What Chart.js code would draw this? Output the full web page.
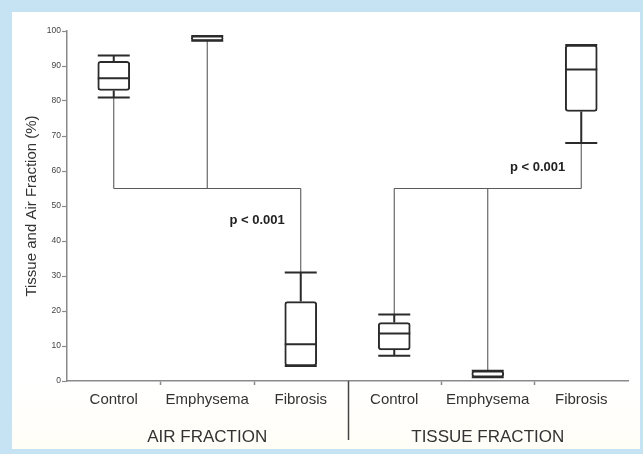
<!DOCTYPE html>
<html>
<head>
<meta charset="utf-8">
<script src="https://cdn.jsdelivr.net/npm/chart.js@4.4.1/dist/chart.umd.min.js"></script>
<style>
  html, body { margin: 0; padding: 0; width: 643px; height: 454px; overflow: hidden; background: #c6e3f3; }
  #panel { position: absolute; left: 12px; top: 12px; width: 628px; height: 437px;
           background: linear-gradient(#ffffff 85%, #fffdf6); }
  #chart { position: absolute; left: 0; top: 0; }
</style>
</head>
<body>
<div id="panel"></div>
<canvas id="chart" width="643" height="454"></canvas>
<script>
// box plot data
const categories = ['Control', 'Emphysema', 'Fibrosis', 'Control', 'Emphysema', 'Fibrosis']
const groupLabels = ['AIR FRACTION', 'TISSUE FRACTION']
const whiskerMin = [81, 97.2, 4.3, 7.2, 1.1, 68]
const q1 = [83, 97.2, 4.3, 8.9, 1.1, 77]
const median = [86.5, 97.9, 10.5, 13.6, 2, 89]
const q3 = [91.3, 98.6, 22.7, 16.7, 2.9, 96]
const whiskerMax = [93, 98.6, 31, 19, 2.9, 96]
const yTicks = [0, 10, 20, 30, 40, 50, 60, 70, 80, 90, 100]
const bracketLevel = [55, 55]
const pLabels = ['p < 0.001', 'p < 0.001']

const boxColor = '#2b2b2b'
const lineColor = '#5a5a5a'
const axisColor = '#8a8a8a'
const textColor = '#333'
const fontFamily = "'Liberation Sans', Arial, Helvetica, sans-serif"
const capHalf = 16

const boxPlugin = {
  id: 'boxWhiskers',
  beforeDatasetsDraw(chart) {
    const ctx = chart.ctx
    const x = chart.scales.x
    const y = chart.scales.y
    ctx.save()
    ctx.strokeStyle = lineColor
    ctx.lineWidth = 1.1
    // significance brackets
    bracketLevel.forEach((level, g) => {
      const yl = y.getPixelForValue(level)
      const first = g * 3
      const last = g * 3 + 2
      ctx.beginPath()
      ctx.moveTo(x.getPixelForValue(first), yl)
      ctx.lineTo(x.getPixelForValue(last), yl)
      for (let i = first; i <= last; i++) {
        const end = whiskerMin[i] > level ? whiskerMin[i] : whiskerMax[i]
        const xp = x.getPixelForValue(i)
        ctx.moveTo(xp, yl)
        ctx.lineTo(xp, y.getPixelForValue(end))
      }
      ctx.stroke()
    })
    // separator between the two groups
    const sx = Math.round((x.getPixelForValue(2) + x.getPixelForValue(3)) / 2) + 0.5
    ctx.strokeStyle = '#444'
    ctx.lineWidth = 1.5
    ctx.beginPath()
    ctx.moveTo(sx, chart.chartArea.bottom)
    ctx.lineTo(sx, chart.chartArea.bottom + 59)
    ctx.stroke()
    ctx.restore()
  },
  afterDatasetsDraw(chart) {
    const ctx = chart.ctx
    const x = chart.scales.x
    const y = chart.scales.y
    ctx.save()
    ctx.strokeStyle = boxColor
    ctx.lineWidth = 2
    categories.forEach((c, i) => {
      const xp = x.getPixelForValue(i)
      ctx.beginPath()
      // stems
      ctx.moveTo(xp, y.getPixelForValue(q3[i]))
      ctx.lineTo(xp, y.getPixelForValue(whiskerMax[i]))
      ctx.moveTo(xp, y.getPixelForValue(q1[i]))
      ctx.lineTo(xp, y.getPixelForValue(whiskerMin[i]))
      // caps
      ctx.moveTo(xp - capHalf, y.getPixelForValue(whiskerMax[i]))
      ctx.lineTo(xp + capHalf, y.getPixelForValue(whiskerMax[i]))
      ctx.moveTo(xp - capHalf, y.getPixelForValue(whiskerMin[i]))
      ctx.lineTo(xp + capHalf, y.getPixelForValue(whiskerMin[i]))
      // median, only where the box is tall enough to show it
      const boxH = y.getPixelForValue(q1[i]) - y.getPixelForValue(q3[i])
      if (boxH > 8) {
        ctx.moveTo(xp - capHalf, y.getPixelForValue(median[i]))
        ctx.lineTo(xp + capHalf, y.getPixelForValue(median[i]))
      }
      ctx.stroke()
    })
    // p value labels
    ctx.fillStyle = '#222'
    ctx.font = 'bold 13px ' + fontFamily
    ctx.textAlign = 'right'
    ctx.textBaseline = 'middle'
    pLabels.forEach((txt, g) => {
      const xp = x.getPixelForValue(g * 3 + 2) - 16
      const yl = y.getPixelForValue(bracketLevel[g])
      ctx.fillText(txt, xp, g === 0 ? yl + 32 : yl - 21)
    })
    ctx.restore()
  }
}

new Chart(document.getElementById('chart'), {
  type: 'bar',
  data: {
    labels: categories,
    datasets: [{
      data: q1.map((v, i) => [v, q3[i]]),
      backgroundColor: '#fff',
      borderColor: boxColor,
      borderWidth: 2,
      borderSkipped: false,
      borderRadius: 3,
      barThickness: 32
    }]
  },
  options: {
    responsive: false,
    animation: false,
    layout: { padding: { top: 31, right: 15, bottom: 9, left: 0 } },
    plugins: { legend: { display: false }, tooltip: { enabled: false } },
    scales: {
      x: {
        type: 'category',
        labels: categories,
        offset: true,
        grid: {
          offset: true,
          drawOnChartArea: false,
          tickLength: 4,
          tickWidth: 1.5,
          tickColor: ctx => [1, 2, 4, 5].includes(ctx.index) ? axisColor : 'transparent'
        },
        border: { color: axisColor, width: 1.5 },
        ticks: { color: textColor, font: { family: fontFamily, size: 15 }, padding: 6 },
        afterFit: s => { s.height = 30 }
      },
      x2: {
        type: 'category',
        position: 'bottom',
        labels: groupLabels,
        offset: true,
        grid: { display: false, drawTicks: false },
        border: { display: false },
        ticks: { color: textColor, font: { family: fontFamily, size: 17 }, padding: 16 },
        afterFit: s => { s.height = 34 }
      },
      y: {
        min: 0,
        max: 100,
        afterBuildTicks: s => { s.ticks = yTicks.map(v => ({ value: v })) },
        grid: { drawOnChartArea: false, tickLength: 5, tickWidth: 1.2, color: axisColor },
        border: { color: axisColor, width: 1.5 },
        ticks: { color: '#444', font: { family: fontFamily, size: 8.5 }, padding: 1 },
        title: {
          display: true,
          text: 'Tissue and Air Fraction (%)',
          color: textColor,
          font: { family: fontFamily, size: 15 },
          padding: { top: 23, bottom: 0 }
        },
        afterFit: s => { s.width = 67 }
      }
    }
  },
  plugins: [boxPlugin]
})
</script>
</body>
</html>
